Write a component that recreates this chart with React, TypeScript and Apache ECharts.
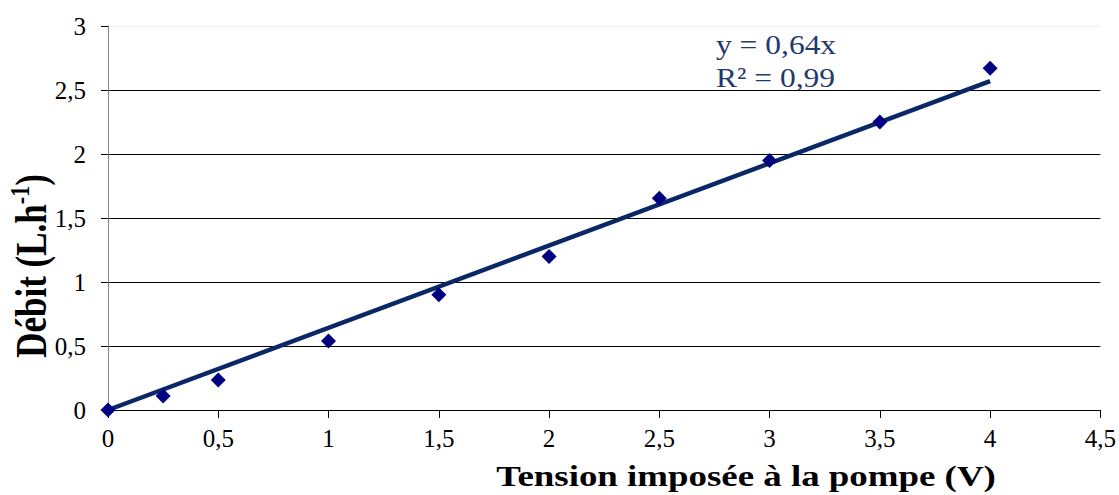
import React, { useEffect, useRef } from "react";
import * as echarts from "echarts";

const tensionV = [0, 0.25, 0.5, 1, 1.5, 2, 2.5, 3, 3.5, 4];
const debit = [0, 0.11, 0.235, 0.54, 0.9, 1.2, 1.655, 1.95, 2.25, 2.67];
const trendX = [0, 4];
const trendY = [0, 2.57];
const equationLines = ["y = 0,64x", "R² = 0,99"];
const xTitle = "Tension imposée à la pompe (V)";

const SERIF = "Liberation Serif, Times New Roman, serif";

export default function App() {
  const ref = useRef<HTMLDivElement>(null);
  useEffect(() => {
    if (!ref.current) return;
    const chart = echarts.init(ref.current, undefined, { renderer: "svg" });
    const fmt = (v: number) => String(v).replace(".", ",");
    chart.setOption({
      animation: false,
      backgroundColor: "#ffffff",
      grid: { left: 108, right: 18, top: 26, bottom: 85 },
      xAxis: {
        type: "value",
        min: 0,
        max: 4.5,
        interval: 0.5,
        axisLine: { show: true, lineStyle: { color: "#000", width: 1 } },
        axisTick: { show: true, inside: false, length: 8, lineStyle: { color: "#000" } },
        splitLine: { show: false },
        axisLabel: {
          formatter: fmt,
          fontFamily: SERIF,
          fontSize: 25,
          color: "#000",
          margin: 16,
        },
      },
      yAxis: {
        type: "value",
        min: 0,
        max: 3,
        interval: 0.5,
        axisLine: { show: true, lineStyle: { color: "#888", width: 1 } },
        axisTick: { show: true, length: 7, lineStyle: { color: "#000" } },
        splitLine: {
          show: true,
          lineStyle: {
            color: ["#000", "#000", "#000", "#000", "#000", "#000", "#f2f2f2"],
            width: 1,
          },
        },
        axisLabel: {
          formatter: fmt,
          fontFamily: SERIF,
          fontSize: 25,
          color: "#000",
          margin: 22,
        },
      },
      series: [
        {
          type: "line",
          data: trendX.map((x, i) => [x, trendY[i]]),
          showSymbol: false,
          symbol: "none",
          lineStyle: { color: "#0B2866", width: 4.5 },
          z: 2,
        },
        {
          type: "scatter",
          data: tensionV.map((x, i) => [x, debit[i]]),
          symbol: "diamond",
          symbolSize: [15, 15],
          itemStyle: { color: "#000080", opacity: 1 },
          z: 3,
        },
      ],
      graphic: [
        {
          type: "text",
          x: 716,
          y: 28,
          scaleX: 1.125,
          style: {
            text: equationLines.join("\n"),
            fontFamily: SERIF,
            fontSize: 28,
            lineHeight: 33,
            fill: "#1F3A6E",
            verticalAlign: "top",
          },
        },
        {
          type: "text",
          x: 746,
          y: 476,
          scaleX: 1.23,
          style: {
            text: xTitle,
            fontFamily: SERIF,
            fontSize: 30,
            fontWeight: "bold",
            fill: "#000",
            align: "center",
            verticalAlign: "middle",
          },
        },
        {
          type: "text",
          x: 30,
          y: 266,
          rotation: Math.PI / 2,
          scaleY: 1.25,
          style: {
            text: "{a|Débit (L.h}{s|-1}{a|)}",
            align: "center",
            verticalAlign: "middle",
            rich: {
              a: { fontFamily: SERIF, fontSize: 35, fontWeight: "bold", fill: "#000", verticalAlign: "bottom", lineHeight: 38 },
              s: { fontFamily: SERIF, fontSize: 22, fontWeight: "bold", fill: "#000", verticalAlign: "top", lineHeight: 38 },
            },
          },
        },
      ],
    });
    return () => chart.dispose();
  }, []);
  return (
    <div
      ref={ref}
      style={{ position: "absolute", left: 0, top: 0, width: 1119, height: 495 }}
    />
  );
}
